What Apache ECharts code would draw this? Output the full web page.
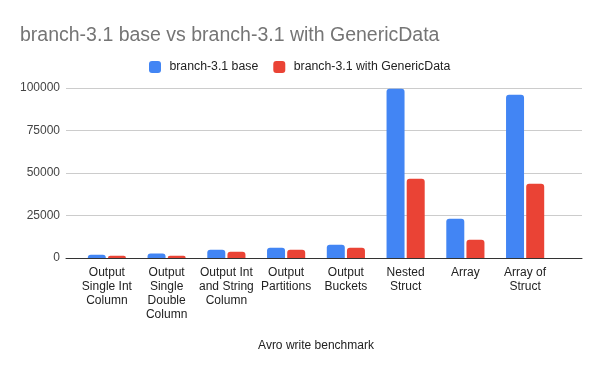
<!DOCTYPE html>
<html><head><meta charset="utf-8">
<script src="https://cdn.jsdelivr.net/npm/echarts@6/dist/echarts.min.js"></script>
<style>html,body{margin:0;padding:0;background:#fff}#c{width:600px;height:371px}</style>
</head><body><div id="c"></div>
<script>
const categories = ["Output\nSingle Int\nColumn", "Output\nSingle\nDouble\nColumn", "Output Int\nand String\nColumn", "Output\nPartitions", "Output\nBuckets", "Nested\nStruct", "Array", "Array of\nStruct"];
const baseValues = [1950, 2700, 4900, 6050, 7800, 99600, 23100, 96000];
const genericValues = [1350, 1300, 3700, 4900, 6050, 46600, 10750, 43700];
const yTicks = [0, 25000, 50000, 75000, 100000];
const seriesNames = ["branch-3.1 base", "branch-3.1 with GenericData"];

const font = "Arial, 'Liberation Sans', sans-serif";
const chart = echarts.init(document.getElementById('c'), null, {renderer: 'canvas'});
chart.setOption({
  animation: false,
  backgroundColor: '#fff',
  title: {
    text: "branch-3.1 base vs branch-3.1 with GenericData",
    left: 15, top: 21,
    textStyle: {fontFamily: font, fontSize: 19.5, fontWeight: 'normal', color: '#757575'}
  },
  legend: {
    data: seriesNames,
    left: 144, top: 56,
    itemWidth: 12, itemHeight: 12, itemGap: 15,
    icon: 'roundRect',
    formatter: function (n) { return ' ' + n; },
    textStyle: {fontFamily: font, fontSize: 12.3, color: '#222'}
  },
  grid: [
    {left: 66, right: 18, top: 88, height: 170, containLabel: false},
    {left: 77, width: 478, top: 88, height: 170, containLabel: false}
  ],
  xAxis: [
    {type: 'category', gridIndex: 0, data: ['a'], axisLine: {lineStyle: {color: '#333', width: 1}}, axisTick: {show: false}, axisLabel: {show: false}, splitLine: {show: false}, z: 5},
    {type: 'category', gridIndex: 1, data: categories,
      axisLine: {show: false}, axisTick: {show: false},
      axisLabel: {interval: 0, margin: 8, fontFamily: font, fontSize: 12, color: '#222', lineHeight: 14},
      name: "Avro write benchmark", nameLocation: 'middle', nameGap: 82,
      nameTextStyle: {fontFamily: font, fontSize: 12, color: '#222'}
    }
  ],
  yAxis: [
    {type: 'value', gridIndex: 0, min: yTicks[0], max: yTicks[yTicks.length - 1], interval: 25000,
      axisLine: {show: false}, axisTick: {show: false},
      axisLabel: {margin: 6, fontFamily: font, fontSize: 12, color: '#444', formatter: function (v) { return String(v); }},
      splitLine: {lineStyle: {color: '#ccc', width: 1}}},
    {type: 'value', gridIndex: 1, min: yTicks[0], max: yTicks[yTicks.length - 1], interval: 25000, show: false, splitLine: {show: false}}
  ],
  series: [
    {name: seriesNames[0], type: 'bar', xAxisIndex: 1, yAxisIndex: 1, data: baseValues, barWidth: 18, barGap: '12%',
      itemStyle: {color: '#4285F4', borderRadius: [3, 3, 0, 0]}},
    {name: seriesNames[1], type: 'bar', xAxisIndex: 1, yAxisIndex: 1, data: genericValues, barWidth: 18, barGap: '12%',
      itemStyle: {color: '#EA4335', borderRadius: [3, 3, 0, 0]}}
  ]
});
</script></body></html>
